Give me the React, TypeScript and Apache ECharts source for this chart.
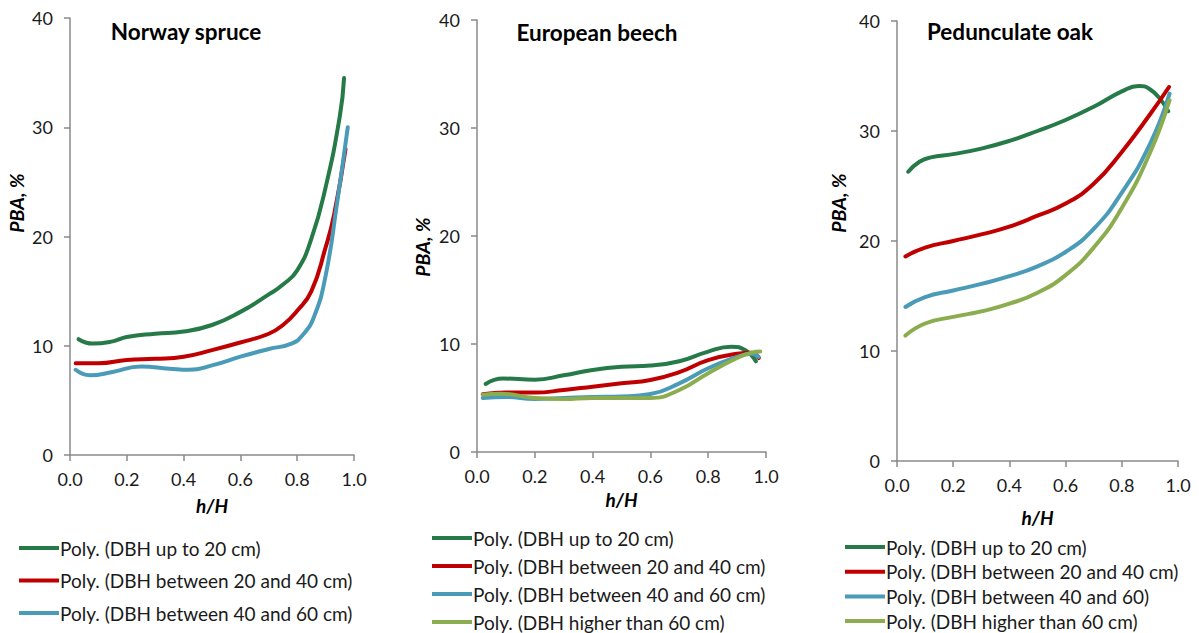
import React, { useEffect, useRef } from "react";
import * as echarts from "echarts";

// ---------- data ----------
const COLORS = ["#257A48", "#C00000", "#4A9BB8", "#8CAD4F"];

const NAMES_A = [
  "Poly. (DBH up to 20 cm)",
  "Poly. (DBH between 20 and 40 cm)",
  "Poly. (DBH between 40 and 60 cm)",
  "Poly. (DBH higher than 60 cm)",
];
const NAMES_C = [
  "Poly. (DBH up to 20 cm)",
  "Poly. (DBH between 20 and 40 cm)",
  "Poly. (DBH between 40 and 60)",
  "Poly. (DBH higher than 60 cm)",
];

const TITLES = ["Norway spruce", "European beech", "Pedunculate oak"];
const X_TICKS = [0, 0.2, 0.4, 0.6, 0.8, 1.0];
const Y_TICKS = [0, 10, 20, 30, 40];

// Norway spruce
const spruceH1 = [0.03, 0.08, 0.15, 0.2, 0.3, 0.4, 0.5, 0.6, 0.7, 0.75, 0.8, 0.85, 0.9, 0.95, 0.965];
const spruceV1 = [10.6, 10.2, 10.4, 10.8, 11.1, 11.3, 11.9, 13.1, 14.7, 15.6, 16.9, 19.8, 24.5, 31.0, 34.5];
const spruceH2 = [0.02, 0.1, 0.2, 0.3, 0.4, 0.5, 0.6, 0.7, 0.75, 0.8, 0.85, 0.9, 0.93, 0.97];
const spruceV2 = [8.4, 8.4, 8.7, 8.8, 9.0, 9.6, 10.3, 11.1, 11.9, 13.2, 15.0, 19.0, 22.0, 28.0];
const spruceH3 = [0.02, 0.07, 0.15, 0.25, 0.35, 0.42, 0.5, 0.6, 0.7, 0.78, 0.82, 0.86, 0.9, 0.94, 0.978];
const spruceV3 = [7.8, 7.3, 7.6, 8.1, 7.9, 7.8, 8.2, 9.0, 9.7, 10.2, 11.0, 12.7, 16.4, 23.0, 30.0];

// European beech
const beechH1 = [0.03, 0.09, 0.2, 0.3, 0.4, 0.5, 0.6, 0.7, 0.8, 0.88, 0.93, 0.965];
const beechV1 = [6.3, 6.8, 6.7, 7.1, 7.6, 7.9, 8.0, 8.4, 9.3, 9.75, 9.4, 8.4];
const beechH2 = [0.02, 0.1, 0.2, 0.3, 0.4, 0.5, 0.6, 0.7, 0.8, 0.9, 0.95, 0.975];
const beechV2 = [5.35, 5.5, 5.5, 5.74, 6.05, 6.36, 6.67, 7.4, 8.5, 9.1, 9.2, 8.7];
const beechH3 = [0.02, 0.1, 0.2, 0.3, 0.4, 0.5, 0.6, 0.7, 0.8, 0.9, 0.95, 0.975];
const beechV3 = [5.0, 5.1, 4.9, 5.0, 5.1, 5.15, 5.37, 6.36, 7.75, 8.8, 9.1, 8.8];
const beechH4 = [0.02, 0.08, 0.2, 0.3, 0.4, 0.5, 0.6, 0.7, 0.8, 0.9, 0.95, 0.98];
const beechV4 = [5.3, 5.4, 5.0, 4.9, 5.0, 5.0, 5.0, 5.74, 7.3, 8.7, 9.2, 9.3];

// Pedunculate oak
const oakH1 = [0.04, 0.08, 0.12, 0.2, 0.3, 0.4, 0.5, 0.6, 0.7, 0.8, 0.86, 0.9, 0.94, 0.965];
const oakV1 = [26.3, 27.2, 27.6, 27.9, 28.4, 29.1, 30.0, 31.0, 32.2, 33.6, 34.1, 33.8, 32.8, 31.8];
const oakH2 = [0.03, 0.1, 0.2, 0.3, 0.4, 0.5, 0.6, 0.7, 0.8, 0.9, 0.968];
const oakV2 = [18.6, 19.4, 20.0, 20.6, 21.3, 22.3, 23.4, 25.2, 28.1, 31.5, 34.0];
const oakH3 = [0.03, 0.1, 0.2, 0.3, 0.4, 0.5, 0.6, 0.7, 0.8, 0.9, 0.97];
const oakV3 = [14.0, 14.9, 15.5, 16.1, 16.8, 17.7, 19.0, 21.1, 24.4, 28.8, 33.4];
const oakH4 = [0.03, 0.1, 0.2, 0.3, 0.4, 0.5, 0.6, 0.7, 0.8, 0.9, 0.97];
const oakV4 = [11.4, 12.5, 13.1, 13.6, 14.3, 15.3, 16.9, 19.4, 23.0, 28.0, 32.8];

const PANELS = [
  { names: NAMES_A.slice(0, 3), h: [spruceH1, spruceH2, spruceH3], v: [spruceV1, spruceV2, spruceV3] },
  { names: NAMES_A, h: [beechH1, beechH2, beechH3, beechH4], v: [beechV1, beechV2, beechV3, beechV4] },
  { names: NAMES_C, h: [oakH1, oakH2, oakH3, oakH4], v: [oakV1, oakV2, oakV3, oakV4] },
];

// ---------- layout ----------
const FONT = "Lato, 'Open Sans', sans-serif";
const GRIDS = [
  { left: 70, top: 18, width: 284, height: 437, nameGap: 41 },
  { left: 477, top: 20, width: 289, height: 432, nameGap: 33 },
  { left: 897, top: 21, width: 281, height: 440, nameGap: 47 },
];
const TITLE_POS = [
  { x: 186, y: 31 },
  { x: 597, y: 32 },
  { x: 1010, y: 31 },
];
const YNAME_POS = [
  { x: 16, y: 203 },
  { x: 422, y: 247 },
  { x: 838, y: 203 },
];
const LEGEND_POS = [
  { left: 19, top: 538, gap: 12.5 },
  { left: 432, top: 528, gap: 8 },
  { left: 845, top: 537, gap: 4.7 },
];

export default function App() {
  const ref = useRef<HTMLDivElement>(null);
  useEffect(() => {
    if (!ref.current) return;
    document.body.style.margin = "0";
    const chart = echarts.init(ref.current, undefined, { renderer: "svg" });
    const axisColor = "#8A8A8A";

    const series: any[] = [];
    PANELS.forEach((p, pi) => {
      p.names.forEach((name, si) => {
        series.push({
          type: "line",
          name,
          xAxisIndex: pi,
          yAxisIndex: pi,
          smooth: 0.5,
          showSymbol: false,
          symbol: "none",
          color: COLORS[si],
          lineStyle: { width: 4, color: COLORS[si], cap: "round" },
          data: p.h[si].map((h, k) => [h, p.v[si][k]]),
        });
      });
    });

    const option: any = {
      animation: false,
      grid: GRIDS.map((g) => ({ left: g.left, top: g.top, width: g.width, height: g.height })),
      xAxis: GRIDS.map((g, i) => ({
        type: "value",
        gridIndex: i,
        min: X_TICKS[0],
        max: X_TICKS[X_TICKS.length - 1],
        interval: 0.2,
        name: "h/H",
        nameLocation: "middle",
        nameGap: g.nameGap,
        nameTextStyle: { fontFamily: FONT, fontSize: 19, fontWeight: "bold", fontStyle: "italic", color: "#000" },
        axisLine: { show: true, lineStyle: { color: axisColor, width: 1.5 } },
        axisTick: { show: true, inside: false, length: 6, lineStyle: { color: axisColor, width: 1.5 } },
        splitLine: { show: false },
        axisLabel: {
          margin: 15,
          fontFamily: FONT,
          fontSize: 18,
          color: "#1a1a1a",
          formatter: (v: number) => v.toFixed(1),
        },
      })),
      yAxis: GRIDS.map((g, i) => ({
        type: "value",
        gridIndex: i,
        min: Y_TICKS[0],
        max: Y_TICKS[Y_TICKS.length - 1],
        interval: 10,
        axisLine: { show: true, lineStyle: { color: axisColor, width: 1.5 } },
        axisTick: { show: true, inside: false, length: 6, lineStyle: { color: axisColor, width: 1.5 } },
        splitLine: { show: false },
        axisLabel: { margin: 17, fontFamily: FONT, fontSize: 18, color: "#1a1a1a" },
      })),
      legend: LEGEND_POS.map((l, i) => ({
        orient: "vertical",
        left: l.left,
        top: l.top,
        height: 140,
        width: 380,
        padding: 0,
        itemGap: l.gap,
        itemWidth: 40,
        itemHeight: 4,
        icon: "rect",
        selectedMode: false,
        data: PANELS[i].names,
        textStyle: { fontFamily: FONT, fontSize: 19, lineHeight: 20, color: "#1a1a1a", padding: [0, 0, 0, -4] },
      })),
      graphic: [
        ...TITLES.map((t, i) => ({
          type: "text",
          x: TITLE_POS[i].x,
          y: TITLE_POS[i].y,
          style: {
            text: t,
            fontFamily: FONT,
            fontSize: 22.5,
            fontWeight: "bold",
            fill: "#000",
            align: "center",
            verticalAlign: "middle",
          },
        })),
        ...YNAME_POS.map((p) => ({
          type: "text",
          x: p.x,
          y: p.y,
          rotation: Math.PI / 2,
          style: {
            text: "PBA, %",
            fontFamily: FONT,
            fontSize: 19.5,
            fontWeight: "bold",
            fontStyle: "italic",
            fill: "#000",
            align: "center",
            verticalAlign: "middle",
          },
        })),
      ],
      series,
    };
    chart.setOption(option);
    return () => chart.dispose();
  }, []);

  return <div ref={ref} style={{ width: 1199, height: 633 }} />;
}
